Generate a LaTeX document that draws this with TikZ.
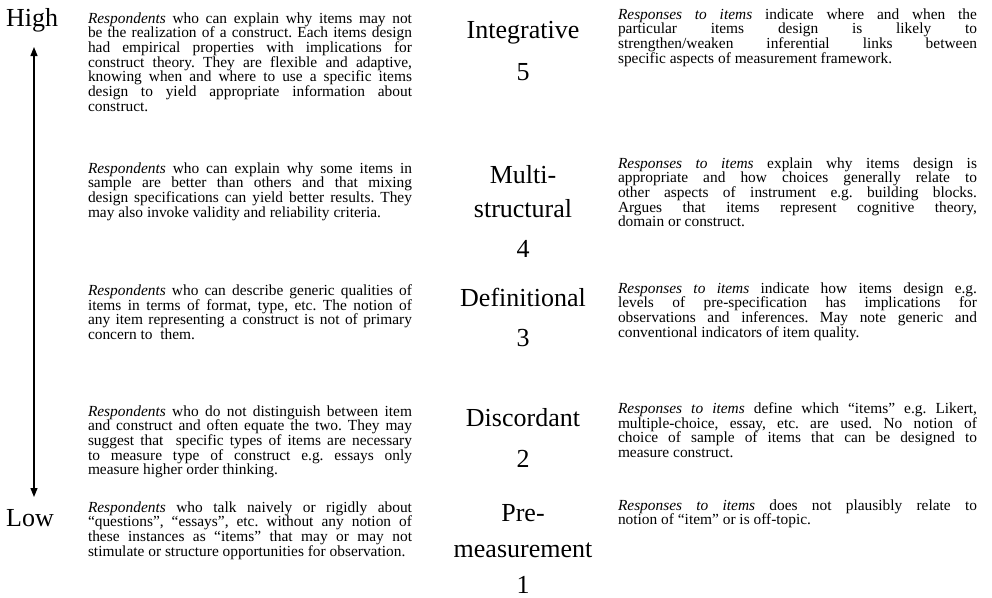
\documentclass[tikz,border=0pt]{standalone}
\usepackage{fontspec}
\setmainfont{Liberation Serif}
\usetikzlibrary{arrows.meta}
% uniform word spacing, no hyphenation, accept loose justified lines
\frenchspacing
\tolerance=10000
\hyphenpenalty=10000
\exhyphenpenalty=10000
\begin{document}
\begin{tikzpicture}[x=1pt,y=-1pt,
  desc/.style={anchor=north west, inner sep=0pt, outer sep=0pt, align=justify,
    font=\fontsize{15.4}{14.7}\selectfont},
  leftdesc/.style={desc, text width=324pt},
  rightdesc/.style={desc, text width=359pt},
  levelword/.style={anchor=base, inner sep=0pt, font=\fontsize{26}{30}\selectfont},
  endlabel/.style={anchor=base west, inner sep=0pt, font=\fontsize{26}{30}\selectfont},
  scalearrow/.style={line width=1.2pt,
    {Triangle[length=9pt,width=7pt]}-{Triangle[length=9pt,width=7pt]}}
]
\useasboundingbox (0,0) rectangle (992,597);

% scale ends and the arrow between them
\node[endlabel] (high) at (6,27) {High};
\node[endlabel] (low) at (6,526) {Low};
\coordinate (arrtop) at (34,47);
\coordinate (arrbot) at (34,497);
\draw[scalearrow] (arrtop) -- (arrbot);

% level names and numbers
\node[levelword] (l5a) at (523,38) {Integrative};
\node[levelword] (l5n) at (523,80) {5};
\node[levelword] (l4a) at (523,183) {Multi-};
\node[levelword] (l4b) at (523,217) {structural};
\node[levelword] (l4n) at (523,257) {4};
\node[levelword] (l3a) at (523,306) {Definitional};
\node[levelword] (l3n) at (523,346) {3};
\node[levelword] (l2a) at (523,426) {Discordant};
\node[levelword] (l2n) at (523,467) {2};
\node[levelword] (l1a) at (523,521) {Pre-};
\node[levelword] (l1b) at (523,557) {measurement};
\node[levelword] (l1n) at (523,593) {1};

% respondent descriptions
\node[leftdesc] (r5) at (88,12.5) {\textit{Respondents} who can explain why items may not \linebreak
be the realization of a construct. Each items design \linebreak
had empirical properties with implications for \linebreak
construct theory. They are flexible and adaptive, \linebreak
knowing when and where to use a specific items \linebreak
design to yield appropriate information about \linebreak
construct.};

\node[leftdesc] (r4) at (88,162.5) {\textit{Respondents} who can explain why some items in \linebreak
sample are better than others and that mixing \linebreak
design specifications can yield better results. They \linebreak
may also invoke validity and reliability criteria.};

\node[leftdesc] (r3) at (88,284.5) {\textit{Respondents} who can describe generic qualities of \linebreak
items in terms of format, type, etc. The notion of \linebreak
any item representing a construct is not of primary \linebreak
concern to\ \ them.};

\node[leftdesc] (r2) at (88,405.5) {\textit{Respondents} who do not distinguish between item \linebreak
and construct and often equate the two. They may \linebreak
suggest that\ \ specific types of items are necessary \linebreak
to measure type of construct e.g. essays only \linebreak
measure higher order thinking.};

\node[leftdesc] (r1) at (88,501.5) {\textit{Respondents} who talk naively or rigidly about \linebreak
“questions”, “essays”, etc. without any notion of \linebreak
these instances as “items” that may or may not \linebreak
stimulate or structure opportunities for observation.};

% response descriptions
\node[rightdesc] (s5) at (618,8.5) {\textit{Responses to items} indicate where and when the \linebreak
particular items design is likely to \linebreak
strengthen/weaken inferential links between \linebreak
specific aspects of measurement framework.};

\node[rightdesc] (s4) at (618,157.5) {\textit{Responses to items} explain why items design is \linebreak
appropriate and how choices generally relate to \linebreak
other aspects of instrument e.g. building blocks. \linebreak
Argues that items represent cognitive theory, \linebreak
domain or construct.};

\node[rightdesc] (s3) at (618,282.5) {\textit{Responses to items} indicate how items design e.g. \linebreak
levels of pre-specification has implications for \linebreak
observations and inferences. May note generic and \linebreak
conventional indicators of item quality.};

\node[rightdesc] (s2) at (618,402.5) {\textit{Responses to items} define which “items” e.g. Likert, \linebreak
multiple-choice, essay, etc. are used. No notion of \linebreak
choice of sample of items that can be designed to \linebreak
measure construct.};

\node[rightdesc] (s1) at (618,499.5) {\textit{Responses to items} does not plausibly relate to \linebreak
notion of “item” or is off-topic.};
\end{tikzpicture}
\end{document}
